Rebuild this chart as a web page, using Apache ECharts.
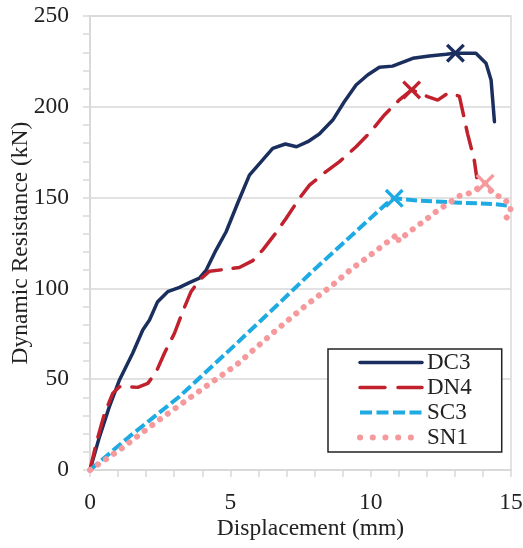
<!DOCTYPE html>
<html>
<head>
<meta charset="utf-8">
<script src="https://cdn.jsdelivr.net/npm/echarts@6/dist/echarts.min.js"></script>
<style>
  html, body { margin: 0; padding: 0; background: #fff; }
  #chart { width: 523px; height: 548px; }
</style>
</head>
<body>
<div id="chart"></div>
<script>
// series names
var seriesNames = ["DC3", "DN4", "SC3", "SN1"];

// [displacement (mm), resistance (kN)]
var dc3Data = [
  [0, 0], [0.34, 18.4], [0.69, 34.9], [1.05, 49.6], [1.52, 64.3], [1.88, 77.1],
  [2.12, 82.6], [2.41, 92.7], [2.77, 98.2], [3.19, 100.6], [3.54, 103.2], [3.9, 105.6],
  [4.14, 110.1], [4.49, 121.1], [4.85, 131.2], [5.26, 146.9], [5.68, 162.4], [6.1, 169.8],
  [6.51, 177.1], [6.96, 179.5], [7.36, 178], [7.76, 180.8], [8.17, 185], [8.65, 192.7],
  [9.06, 202.8], [9.48, 212], [9.89, 217.5], [10.31, 221.8], [10.78, 222.4], [11.5, 226.7],
  [12.09, 228], [12.69, 228.9], [13.02, 229.5], [13.75, 229.5], [14.11, 224], [14.29, 214.8],
  [14.41, 191.8]
];
var dn4Data = [
  [0, 0], [0.22, 14.7], [0.52, 31.2], [0.81, 42.2], [1.05, 45.9], [1.29, 45.9],
  [1.7, 45.5], [2.06, 47.7], [2.36, 54.1], [2.65, 64.3], [3.01, 75.3], [3.3, 87.2],
  [3.6, 98.2], [3.9, 104.6], [4.26, 109.5], [4.73, 110.3], [5.32, 111.5], [5.8, 115.3],
  [6.15, 121.1], [6.63, 130.7], [6.99, 138.6], [7.46, 149.6], [7.82, 156.9], [8.41, 164.3],
  [8.89, 169.8], [9.48, 178], [9.95, 185.4], [10.49, 195.5], [11.0, 203.5], [11.46, 209.3],
  [12.03, 205.6], [12.39, 203.7], [12.74, 207.4], [13.16, 205.9], [13.45, 185.4], [13.69, 170.7],
  [13.78, 161]
];
var sc3Data = [
  [0, 0], [1.41, 18.5], [3.19, 40.5], [4.97, 66], [6.75, 92], [7.93, 109.5],
  [10.55, 146.5], [10.84, 149.6], [11.73, 148.3], [13.16, 147.2], [14.34, 146.5], [15, 145.4]
];
var sn1Data = [
  [0, 0], [1.05, 11], [2.41, 27], [3.78, 42.2], [5.21, 57.8], [6.63, 77],
  [7.72, 91], [8.55, 100.7], [9.3, 110.5], [9.84, 116.6], [10.41, 123.3], [10.69, 126.7],
  [10.96, 129.8], [11.0, 126.1], [11.2, 128.9], [11.47, 132.2], [11.76, 135.5], [12.03, 138.6],
  [12.3, 141.9], [12.59, 145], [12.86, 147.7], [13.16, 150.9], [13.43, 151.8], [13.73, 154.2],
  [14.08, 157.9], [14.34, 152.4], [14.76, 149.3], [15.0, 145], [14.94, 140.4], [14.79, 138.2]
];

// peak markers (x)
var dc3Peak = [13.02, 229.5];
var dn4Peak = [11.46, 209.3];
var sc3Peak = [10.84, 149.6];
var sn1Peak = [14.08, 157.9];

// axis ticks
var xTicks = [0, 5, 10, 15];
var yTicks = [0, 50, 100, 150, 200, 250];

var serifFont = "'Liberation Serif', 'Times New Roman', serif";
var axisGray = "#d9d9d9";
var textColor = "#222";
var crossPath = "path://M0,2.5L2.5,0L10,7.5L17.5,0L20,2.5L12.5,10L20,17.5L17.5,20L10,12.5L2.5,20L0,17.5L7.5,10Z";

var seriesColors = ["#1b2f5e", "#c0212c", "#1eaae2", "#f5999c"];

function peakMark(coord, color) {
  return {
    symbol: crossPath,
    symbolSize: 19,
    silent: true,
    itemStyle: { color: color },
    label: { show: false },
    data: [{ coord: coord }]
  };
}

function makeLine(name, data, color, width, dash, cap, peak) {
  return {
    name: name,
    type: "line",
    data: data,
    symbol: "none",
    showSymbol: false,
    clip: true,
    lineStyle: { color: color, width: width, type: dash, cap: cap },
    itemStyle: { color: color },
    markPoint: peakMark(peak, color)
  };
}

// legend samples drawn a bit differently than the plot lines
var legendItems = [
  { name: seriesNames[0], lineStyle: { width: 3.5, type: "solid", cap: "round" } },
  { name: seriesNames[1], lineStyle: { width: 3.5, type: [25, 13], cap: "round" } },
  { name: seriesNames[2], lineStyle: { width: 4, type: [12, 4.5], cap: "butt" } },
  { name: seriesNames[3], lineStyle: { width: 6, type: [0.1, 12.6], cap: "round" } }
];

var chart = echarts.init(document.getElementById("chart"));
var option = {
  animation: false,
  backgroundColor: "#fff",
  grid: {
    left: 90, right: 12, top: 16, bottom: 78,
    outerBoundsMode: "none",
    show: true, borderColor: axisGray, borderWidth: 1.5
  },
  legend: {
    data: legendItems,
    orient: "vertical",
    left: 328, top: 349,
    padding: [2, 30, 3, 29],
    itemGap: 2,
    itemWidth: 62,
    itemHeight: 14,
    itemStyle: { opacity: 0 },
    backgroundColor: "#fff",
    borderColor: textColor,
    borderWidth: 1.5,
    borderRadius: 0,
    textStyle: { fontFamily: serifFont, fontSize: 23, color: textColor, lineHeight: 22 }
  },
  xAxis: {
    type: "value",
    min: xTicks[0], max: xTicks[xTicks.length - 1], interval: 5,
    name: "Displacement (mm)",
    nameLocation: "middle",
    nameGap: 47,
    nameMoveOverlap: false,
    nameTextStyle: { fontFamily: serifFont, fontSize: 23.5, color: textColor, padding: [0, 0, 0, 20] },
    axisLine: { show: true, lineStyle: { color: axisGray, width: 2 } },
    axisTick: { show: true, inside: false, length: 7, lineStyle: { color: axisGray, width: 1.5 } },
    minorTick: { show: true, splitNumber: 5, length: 7, lineStyle: { color: axisGray, width: 1.5 } },
    axisLabel: { fontFamily: serifFont, fontSize: 23.5, color: textColor, margin: 21 },
    splitLine: { show: false }
  },
  yAxis: {
    type: "value",
    min: yTicks[0], max: yTicks[yTicks.length - 1], interval: 50,
    name: "Dynamic Resistance (kN)",
    nameLocation: "middle",
    nameGap: 57,
    nameMoveOverlap: false,
    nameTextStyle: { fontFamily: serifFont, fontSize: 23.5, color: textColor },
    axisLine: { show: true, lineStyle: { color: axisGray, width: 2 } },
    axisTick: { show: true, inside: false, length: 7, lineStyle: { color: axisGray, width: 1.5 } },
    minorTick: { show: true, splitNumber: 5, length: 7, lineStyle: { color: axisGray, width: 1.5 } },
    axisLabel: { fontFamily: serifFont, fontSize: 23.5, color: textColor, margin: 21 },
    splitLine: { show: true, lineStyle: { color: axisGray, width: 1.5 } }
  },
  series: [
    makeLine(seriesNames[0], dc3Data, seriesColors[0], 3.5, "solid", "round", dc3Peak),
    makeLine(seriesNames[1], dn4Data, seriesColors[1], 3.5, [22, 12], "round", dn4Peak),
    makeLine(seriesNames[2], sc3Data, seriesColors[2], 4, [11, 4], "butt", sc3Peak),
    makeLine(seriesNames[3], sn1Data, seriesColors[3], 6, [0.1, 9.5], "round", sn1Peak)
  ]
};
chart.setOption(option);
</script>
</body>
</html>
